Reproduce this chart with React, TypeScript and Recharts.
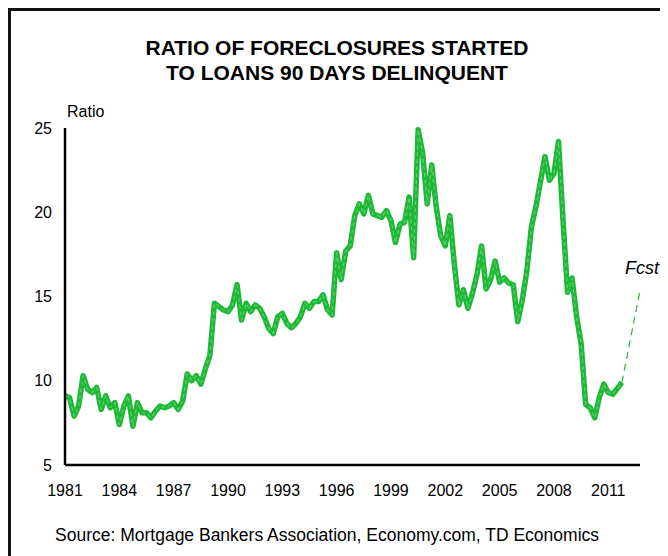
import { LineChart, Line, XAxis, YAxis } from "recharts";

// quarterly, 1981Q1 .. 2011Q4
const ratio = [
    9.1, 9.0, 7.9, 8.5, 10.3, 9.5, 9.3, 9.6, 8.3, 9.1, 8.4, 8.7,
    7.4, 8.5, 9.1, 7.3, 8.7, 8.1, 8.1, 7.8, 8.2, 8.5, 8.4, 8.5,
    8.7, 8.3, 8.8, 10.4, 10.0, 10.3, 9.8, 10.7, 11.5, 14.6, 14.4, 14.2,
    14.1, 14.5, 15.7, 13.6, 14.6, 14.1, 14.5, 14.3, 13.8, 13.1, 12.8, 13.8,
    14.0, 13.4, 13.15, 13.4, 13.8, 14.6, 14.3, 14.7, 14.7, 15.1, 14.2, 13.9,
    17.6, 16.0, 17.7, 18.0, 19.8, 20.5, 19.9, 21.0, 19.9, 19.8, 19.7, 20.1,
    19.5, 18.2, 19.3, 19.4, 20.9, 17.3, 24.9, 23.5, 20.5, 22.8, 20.3, 18.6,
    18.0, 19.8, 16.9, 14.5, 15.4, 14.3, 15.2, 16.3, 18.0, 15.45, 16.0, 17.1,
    15.85, 16.1, 15.8, 15.7, 13.5, 14.8, 16.5, 19.1, 20.3, 21.8, 23.3, 21.9,
    22.3, 24.2, 19.5, 15.25, 16.1, 13.8, 12.2, 8.6, 8.4, 7.8, 9.0, 9.8,
    9.3, 9.2, 9.55, 9.9,
];
// forecast: 2011Q4 -> 2012Q4
const forecast = [9.9, 15.35];
const forecastQuarters = [123, 127];

const years = [1981, 1984, 1987, 1990, 1993, 1996, 1999, 2002, 2005, 2008, 2011];
const yTicks = [5, 10, 15, 20, 25];

const data = [
    ...ratio.map((v, i) => ({ q: i, ratio: v, fcst: i === forecastQuarters[0] ? forecast[0] : undefined })),
    { q: forecastQuarters[1], fcst: forecast[1] },
];

const font = "'Liberation Sans', Arial, sans-serif";

export default function App() {
    return (
        <div style={{ position: "relative", width: 660, height: 548, fontFamily: font, color: "#000" }}>
            <div
                style={{
                    position: "absolute",
                    left: 0,
                    top: 0,
                    width: 700,
                    height: 600,
                    borderTop: "3px solid #111",
                    borderLeft: "3px solid #111",
                }}
            />
            <div
                style={{
                    position: "absolute",
                    left: 0,
                    top: 27,
                    width: 658,
                    textAlign: "center",
                    fontWeight: "bold",
                    fontSize: 21,
                    lineHeight: "25px",
                }}
            >
                RATIO OF FORECLOSURES STARTED
                <br />
                TO LOANS 90 DAYS DELINQUENT
            </div>
            <div style={{ position: "absolute", left: 59, top: 95, fontSize: 16, lineHeight: "18px" }}>Ratio</div>
            <div style={{ position: "absolute", left: 617, top: 250, fontSize: 18, fontStyle: "italic", lineHeight: "20px" }}>
                Fcst
            </div>
            <div style={{ position: "absolute", left: 47, top: 517, fontSize: 17.5, lineHeight: "20px" }}>
                Source: Mortgage Bankers Association, Economy.com, TD Economics
            </div>
            <div style={{ position: "absolute", left: 0, top: 0 }}>
                <LineChart width={652} height={540} data={data} margin={{ top: 120, right: 20, left: 0, bottom: 0 }}>
                    <XAxis
                        dataKey="q"
                        type="number"
                        domain={[0, 127]}
                        ticks={years.map((y) => (y - 1981) * 4)}
                        tickFormatter={(v: number) => String(1981 + Math.floor(v / 4))}
                        height={83}
                        tickLine={false}
                        tickSize={0}
                        tickMargin={20}
                        axisLine={{ stroke: "#000", strokeWidth: 2.5 }}
                        tick={{ fill: "#000", fontSize: 16, fontFamily: font }}
                        interval={0}
                    />
                    <YAxis
                        type="number"
                        domain={[5, 25]}
                        ticks={yTicks}
                        width={57}
                        tickLine={false}
                        tickSize={0}
                        tickMargin={13}
                        axisLine={{ stroke: "#000", strokeWidth: 2.5 }}
                        tick={{ fill: "#000", fontSize: 16, fontFamily: font }}
                        interval={0}
                    />
                    <Line
                        dataKey="fcst"
                        stroke="#22b83a"
                        strokeWidth={1.2}
                        strokeDasharray="7 5"
                        dot={false}
                        connectNulls
                        isAnimationActive={false}
                    />
                    <Line
                        dataKey="ratio"
                        stroke="#1db835"
                        strokeWidth={5.5}
                        strokeLinejoin="round"
                        dot={false}
                        isAnimationActive={false}
                    />
                    <Line
                        dataKey="ratio"
                        stroke="#5fd06d"
                        strokeWidth={1.2}
                        strokeDasharray="4 3"
                        strokeLinejoin="round"
                        dot={false}
                        isAnimationActive={false}
                    />
                </LineChart>
            </div>
        </div>
    );
}
